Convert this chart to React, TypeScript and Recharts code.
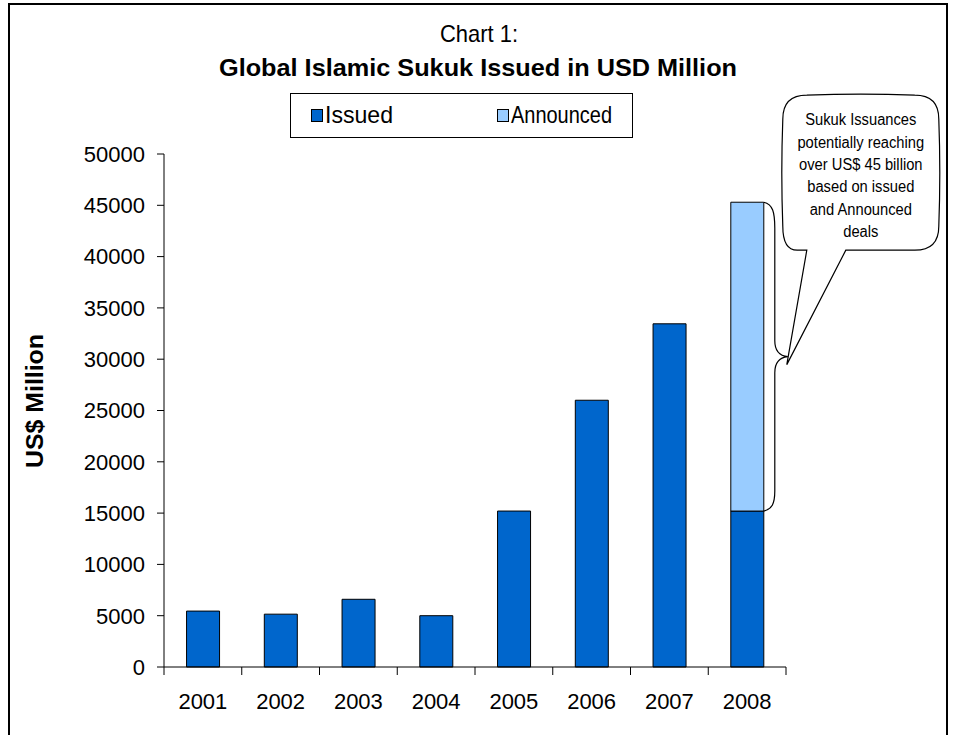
import React from 'react';
import { BarChart, Bar, XAxis, YAxis, Rectangle } from 'recharts';

const years = ['2001', '2002', '2003', '2004', '2005', '2006', '2007', '2008'];
const issued = [5450, 5150, 6600, 5000, 15200, 26000, 33450, 15200];
const announced = [0, 0, 0, 0, 0, 0, 0, 30100];
const yTicks = [0, 5000, 10000, 15000, 20000, 25000, 30000, 35000, 40000, 45000, 50000];
const seriesNames = ['Issued', 'Announced'];
const seriesColors = ['#0066CC', '#99CCFF'];
const titleLine1 = 'Chart 1:';
const titleLine2 = 'Global Islamic Sukuk Issued in USD Million';
const yAxisTitle = 'US$ Million';
const calloutLines = [
  'Sukuk Issuances',
  'potentially reaching',
  'over US$ 45 billion',
  'based on issued',
  'and Announced',
  'deals',
];

const data = years.map((y, i) => ({ year: y, issued: issued[i], announced: announced[i] }));

const W = 953;
const H = 735;
const PLOT_LEFT = 164;
const PLOT_RIGHT = 786;
const PLOT_TOP = 154;
const PLOT_BOTTOM = 667;
const Y_AXIS_W = 60;
const X_AXIS_H = 30;
const BAND = (PLOT_RIGHT - PLOT_LEFT) / years.length;

const SANS = "'Liberation Sans', Arial, Helvetica, sans-serif";

const XTick = (props: any) => {
  const { x, y, payload, index } = props;
  const left = x - BAND / 2;
  return (
    <g>
      <line x1={left} y1={PLOT_BOTTOM} x2={left} y2={PLOT_BOTTOM + 8} stroke="#000" strokeWidth={1} />
      {index === years.length - 1 && (
        <line x1={left + BAND} y1={PLOT_BOTTOM} x2={left + BAND} y2={PLOT_BOTTOM + 8} stroke="#000" strokeWidth={1} />
      )}
      <text x={x} y={y + 34} textAnchor="middle" fontFamily={SANS} fontSize={22} fill="#000">
        {payload.value}
      </text>
    </g>
  );
};

const AnnouncedShape = (props: any) => {
  const { x, y, width, height, fill } = props;
  if (!height || height <= 0) return null;
  const r = x + width;
  const top = y;
  const bot = y + height;
  const mid = (top + bot) / 2;
  const bx = r + 11;
  const brace = `M ${r} ${top} C ${r + 9} ${top + 2}, ${bx} ${top + 10}, ${bx} ${top + 26} L ${bx} ${mid - 16} C ${bx} ${mid - 6}, ${bx + 4} ${mid - 1}, ${r + 24} ${mid} C ${bx + 4} ${mid + 1}, ${bx} ${mid + 6}, ${bx} ${mid + 16} L ${bx} ${bot - 20} C ${bx} ${bot - 7}, ${r + 8} ${bot - 2}, ${r} ${bot}`;
  const L = r + 19;
  const R = r + 175;
  const T = top - 107;
  const B = top + 48;
  const rad = 24;
  const tipX = r + 23;
  const tipY = mid + 8;
  const tailL = r + 43;
  const tailR = r + 82;
  const box = `M ${L + rad} ${T} Q ${(L + R) / 2} ${T - 2} ${R - rad} ${T} Q ${R} ${T} ${R} ${T + rad} Q ${R + 2} ${(T + B) / 2} ${R} ${B - rad} Q ${R} ${B} ${R - rad} ${B} L ${tailR} ${B} L ${tipX} ${tipY} L ${tailL} ${B} L ${L + rad * 0.6} ${B} Q ${L} ${B} ${L} ${B - rad} Q ${L - 2} ${(T + B) / 2} ${L} ${T + rad} Q ${L} ${T} ${L + rad} ${T} Z`;
  const cx = (L + R) / 2;
  return (
    <g>
      <Rectangle x={x} y={y} width={width} height={height} fill={fill} stroke="#000" strokeWidth={1} />
      <path d={brace} fill="none" stroke="#000" strokeWidth={1.2} />
      <path d={box} fill="#fff" stroke="#000" strokeWidth={1.2} />
      {calloutLines.map((t, i) => (
        <text
          key={i}
          transform={`translate(${cx}, ${T + 30 + i * 22.4}) scale(0.92, 1)`}
          x={0}
          y={0}
          textAnchor="middle"
          fontFamily={SANS}
          fontSize={16}
          fill="#000"
        >
          {t}
        </text>
      ))}
    </g>
  );
};

export default function App() {
  return (
    <div style={{ position: 'absolute', left: 0, top: 0, width: W, height: H, background: '#fff' }}>
      <BarChart
        width={W}
        height={H}
        data={data}
        margin={{ top: PLOT_TOP, right: W - PLOT_RIGHT, bottom: H - PLOT_BOTTOM - X_AXIS_H, left: PLOT_LEFT - Y_AXIS_W }}
        barCategoryGap="29%"
      >
        <XAxis
          dataKey="year"
          height={X_AXIS_H}
          axisLine={{ stroke: '#000', strokeWidth: 1 }}
          tickLine={false}
          tick={<XTick />}
          interval={0}
        />
        <YAxis
          width={Y_AXIS_W}
          domain={[0, 50000]}
          ticks={yTicks}
          interval={0}
          axisLine={{ stroke: '#000', strokeWidth: 1 }}
          tickLine={{ stroke: '#000', strokeWidth: 1 }}
          tickSize={7}
          tickMargin={12}
          tick={{ fontFamily: SANS, fontSize: 22, fill: '#000' }}
        />
        <Bar dataKey="issued" stackId="a" fill={seriesColors[0]} stroke="#000" strokeWidth={1} isAnimationActive={false} />
        <Bar dataKey="announced" stackId="a" fill={seriesColors[1]} stroke="#000" strokeWidth={1} isAnimationActive={false} shape={<AnnouncedShape />} />
      </BarChart>
      <svg width={W} height={H} style={{ position: 'absolute', left: 0, top: 0, pointerEvents: 'none' }}>
        <rect x={9} y={4} width={938} height={760} fill="none" stroke="#000" strokeWidth={2} />
        <text x={479} y={42} textAnchor="middle" fontFamily={SANS} fontSize={24} textLength={78} lengthAdjust="spacingAndGlyphs" fill="#000">{titleLine1}</text>
        <text x={478} y={76} textAnchor="middle" fontFamily={SANS} fontWeight="bold" fontSize={24} textLength={518} lengthAdjust="spacingAndGlyphs" fill="#000">{titleLine2}</text>
        <rect x={290.5} y={93.5} width={342} height={44} fill="#fff" stroke="#000" strokeWidth={1} />
        <rect x={311.5} y={109.5} width={11} height={12} fill={seriesColors[0]} stroke="#000" strokeWidth={1} />
        <text x={325} y={123} fontFamily={SANS} fontSize={24} textLength={68} lengthAdjust="spacingAndGlyphs" fill="#000">{seriesNames[0]}</text>
        <rect x={497.5} y={109.5} width={11} height={12} fill={seriesColors[1]} stroke="#000" strokeWidth={1} />
        <text x={511} y={123} fontFamily={SANS} fontSize={24} textLength={101} lengthAdjust="spacingAndGlyphs" fill="#000">{seriesNames[1]}</text>
        <text x={0} y={0} transform={`translate(43, 401) rotate(-90)`} textAnchor="middle" fontFamily={SANS} fontWeight="bold" fontSize={23} textLength={134} lengthAdjust="spacingAndGlyphs" fill="#000">{yAxisTitle}</text>
      </svg>
    </div>
  );
}
